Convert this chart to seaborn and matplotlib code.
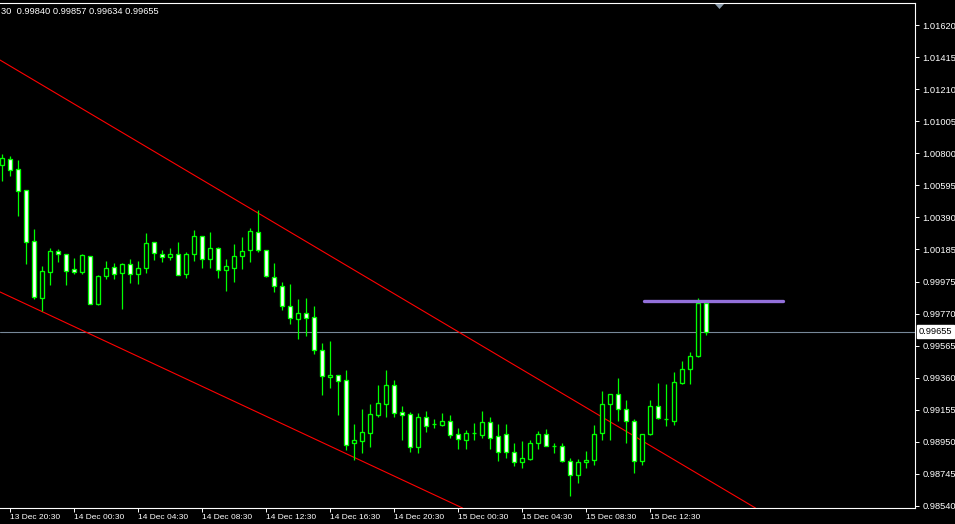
import matplotlib
matplotlib.use("Agg")
import matplotlib.pyplot as plt
import seaborn as sns
import pandas as pd
import numpy as np

# ---------------- data ----------------
opens = [1.00721, 1.00760, 1.00695, 1.00561, 1.00234, 0.99873, 1.00040, 1.00172, 1.00151, 1.00057,
         1.00040, 1.00140, 0.99835, 1.00014, 1.00070, 1.00029, 1.00087, 1.00023, 1.00061, 1.00228,
         1.00153, 1.00136, 1.00151, 1.00023, 1.00151, 1.00268, 1.00119, 1.00189, 1.00049, 1.00065,
         1.00138, 1.00177, 1.00292, 1.00177, 1.00004, 0.99946, 0.99818, 0.99738, 0.99773, 0.99747,
         0.99536, 0.99367, 0.99376, 0.99344, 0.98940, 0.98957, 0.99008, 0.99123, 0.99194, 0.99314,
         0.99141, 0.99128, 0.98918, 0.99107, 0.99062, 0.99059, 0.99083, 0.98998, 0.98963, 0.99006,
         0.98995, 0.99077, 0.98985, 0.99000, 0.98883, 0.98819, 0.98840, 0.98940, 0.98998, 0.98921,
         0.98921, 0.98825, 0.98735, 0.98819, 0.98831, 0.99004, 0.99190, 0.99254, 0.99158, 0.99081,
         0.98825, 0.98998, 0.99177, 0.99098, 0.99086, 0.99325, 0.99414, 0.99498, 0.99840]
highs = [1.00793, 1.00781, 1.00755, 1.00563, 1.00313, 1.00076, 1.00193, 1.00185, 1.00153, 1.00125,
         1.00151, 1.00142, 1.00018, 1.00108, 1.00093, 1.00093, 1.00121, 1.00110, 1.00286, 1.00230,
         1.00179, 1.00193, 1.00230, 1.00168, 1.00307, 1.00268, 1.00294, 1.00196, 1.00119, 1.00217,
         1.00262, 1.00319, 1.00435, 1.00179, 1.00095, 0.99974, 0.99959, 0.99863, 0.99869, 0.99818,
         0.99581, 0.99596, 0.99376, 0.99410, 0.99064, 0.99160, 0.99194, 0.99314, 0.99410, 0.99346,
         0.99179, 0.99139, 0.99132, 0.99147, 0.99094, 0.99134, 0.99122, 0.99038, 0.99025, 0.99070,
         0.99147, 0.99109, 0.99064, 0.99064, 0.98940, 0.98955, 0.98961, 0.99019, 0.99030, 0.98942,
         0.98940, 0.98844, 0.98838, 0.98891, 0.99056, 0.99275, 0.99254, 0.99359, 0.99216, 0.99096,
         0.98998, 0.99218, 0.99325, 0.99320, 0.99397, 0.99467, 0.99525, 0.99871, 0.99857]
lows = [1.00622, 1.00654, 1.00398, 1.00091, 0.99863, 0.99788, 0.99954, 1.00104, 0.99954, 1.00023,
        1.00023, 0.99833, 0.99826, 0.99993, 0.99995, 0.99802, 0.99969, 0.99961, 1.00033, 1.00114,
        1.00102, 1.00113, 1.00016, 1.00001, 1.00110, 1.00065, 1.00065, 1.00001, 0.99918, 0.99975,
        1.00059, 1.00104, 1.00164, 1.00004, 0.99911, 0.99794, 0.99706, 0.99608, 0.99628, 0.99514,
        0.99250, 0.99296, 0.99122, 0.98897, 0.98833, 0.98880, 0.98918, 0.99111, 0.99111, 0.99111,
        0.98961, 0.98886, 0.98880, 0.99015, 0.99036, 0.99051, 0.98976, 0.98904, 0.98904, 0.98963,
        0.98974, 0.98906, 0.98829, 0.98846, 0.98795, 0.98784, 0.98833, 0.98902, 0.98921, 0.98876,
        0.98822, 0.98605, 0.98684, 0.98784, 0.98803, 0.98961, 0.98961, 0.99085, 0.98940, 0.98748,
        0.98803, 0.98995, 0.99098, 0.99053, 0.99057, 0.99322, 0.99322, 0.99495, 0.99634]
closes = [1.00766, 1.00693, 1.00558, 1.00228, 0.99876, 1.00044, 1.00172, 1.00151, 1.00046, 1.00040,
          1.00147, 0.99835, 1.00012, 1.00063, 1.00027, 1.00089, 1.00023, 1.00061, 1.00221, 1.00157,
          1.00132, 1.00153, 1.00020, 1.00153, 1.00268, 1.00119, 1.00189, 1.00049, 1.00074, 1.00138,
          1.00170, 1.00298, 1.00177, 1.00010, 0.99946, 0.99818, 0.99741, 0.99773, 0.99741, 0.99536,
          0.99369, 0.99378, 0.99341, 0.98931, 0.98959, 0.99013, 0.99128, 0.99198, 0.99314, 0.99132,
          0.99123, 0.98918, 0.99107, 0.99053, 0.99061, 0.99083, 0.98995, 0.98966, 0.99004, 0.99007,
          0.99077, 0.98976, 0.98883, 0.98883, 0.98819, 0.98846, 0.98940, 0.98998, 0.98921, 0.98920,
          0.98827, 0.98735, 0.98821, 0.98831, 0.98998, 0.99190, 0.99254, 0.99158, 0.99081, 0.98827,
          0.98998, 0.99179, 0.99104, 0.99097, 0.99331, 0.99414, 0.99498, 0.99840, 0.99655]

x_tick_pos = [1, 9, 17, 25, 33, 41, 49, 57, 65, 73, 81]
x_tick_labels = ["13 Dec 20:30", "14 Dec 00:30", "14 Dec 04:30", "14 Dec 08:30", "14 Dec 12:30",
                 "14 Dec 16:30", "14 Dec 20:30", "15 Dec 00:30", "15 Dec 04:30", "15 Dec 08:30",
                 "15 Dec 12:30"]
y_ticks = [1.01620, 1.01415, 1.01210, 1.01005, 1.00800, 1.00595, 1.00390, 1.00185, 0.99975,
           0.99770, 0.99565, 0.99360, 0.99155, 0.98950, 0.98745, 0.98540]
y_tick_labels = ["1.01620", "1.01415", "1.01210", "1.01005", "1.00800", "1.00595", "1.00390",
                 "1.00185", "0.99975", "0.99770", "0.99565", "0.99360", "0.99155", "0.98950",
                 "0.98745", "0.98540"]

# trend channel lines: (bar index, price) anchor pairs
upper_line_idx = [0, 80]
upper_line_price = [1.01388, 0.98957]
lower_line_idx = [0, 50]
lower_line_price = [0.99904, 0.98707]
# horizontal level
level_idx = [80.25, 97.6]
level_price = [0.99855, 0.99855]
bid_price = 0.99655
header = "30  0.99840 0.99857 0.99634 0.99655"
shift_marker_idx = 89.6
shift_marker_price = 1.01743

# ---------------- styling ----------------
sns.set_theme(style="dark", rc={"axes.facecolor": "black", "figure.facecolor": "black"})
plt.rcParams["font.family"] = ["Liberation Sans", "DejaVu Sans"]

W, H = 955, 524
fig = plt.figure(figsize=(W / 100, H / 100), dpi=100)
fig.patch.set_facecolor("black")
ax = fig.add_axes([0, 16 / H, 915 / W, 505 / H])
ax.set_facecolor("black")

df = pd.DataFrame({"o": opens, "h": highs, "l": lows, "c": closes})
df["i"] = np.arange(len(df))
lime = "#00ff00"

# wicks
ax.vlines(df["i"], df["l"], df["h"], color=lime, lw=0.9, zorder=3)
# bodies
bottoms = np.minimum(df["o"], df["c"])
heights = np.abs(df["c"] - df["o"])
faces = ["white" if c < o else "black" for o, c in zip(df["o"], df["c"])]
ax.bar(df["i"], heights, bottom=bottoms, width=0.62, color=faces, edgecolor=lime,
       linewidth=0.95, zorder=4)

# trend channel
ax.axline((upper_line_idx[0], upper_line_price[0]), (upper_line_idx[1], upper_line_price[1]),
          color="red", lw=0.8, zorder=2)
ax.axline((lower_line_idx[0], lower_line_price[0]), (lower_line_idx[1], lower_line_price[1]),
          color="red", lw=0.8, zorder=2)

# bid line
ax.axhline(bid_price, color="#778899", lw=0.8, zorder=1)

# purple level
lvl = pd.DataFrame({"x": level_idx, "y": level_price})
sns.lineplot(data=lvl, x="x", y="y", ax=ax, color="#9370db", lw=2.4, zorder=5)
ax.set_xlabel("")
ax.set_ylabel("")

ax.set_xlim(-0.25, 114.125)
ax.set_ylim(0.98526, 1.01761)

# axes decoration
ax.spines["left"].set_visible(False)
for side in ["right", "bottom", "top"]:
    ax.spines[side].set_visible(True)
    ax.spines[side].set_color("white")
    ax.spines[side].set_linewidth(0.8)

ax.set_yticks(y_ticks)
ax.set_yticklabels(y_tick_labels)
ax.yaxis.tick_right()
ax.tick_params(axis="y", which="both", right=True, left=False, labelright=True, labelleft=False,
               length=3, width=0.7, color="white", pad=2.2, labelsize=6.7, labelcolor="white")
ax.set_xticks(x_tick_pos)
ax.set_xticklabels(x_tick_labels, ha="left")
ax.tick_params(axis="x", which="both", bottom=True, length=3, width=0.7, color="white",
               pad=1.5, labelsize=6.0, labelcolor="white")
ax.grid(False)

# current price label
ax.text(1.0045, bid_price, f"{bid_price:.5f}", transform=ax.get_yaxis_transform(),
        ha="left", va="center", color="black", fontsize=6.7, clip_on=False, zorder=10,
        bbox=dict(boxstyle="square,pad=0.2", fc="white", ec="white"))

# shift marker (flat downward triangle)
tri = [(-1.8, 1.0), (1.8, 1.0), (0.0, -1.0), (-1.8, 1.0)]
ax.plot([shift_marker_idx], [shift_marker_price], marker=tri, color="#8a9aaa",
        markersize=6.5, markeredgewidth=0, clip_on=False, zorder=10)

# header text
fig.text(1 / W, 1 - 12 / H, header, color="white", fontsize=6.7, ha="left", va="center")

fig.savefig("out.png", dpi=100, facecolor="black")
